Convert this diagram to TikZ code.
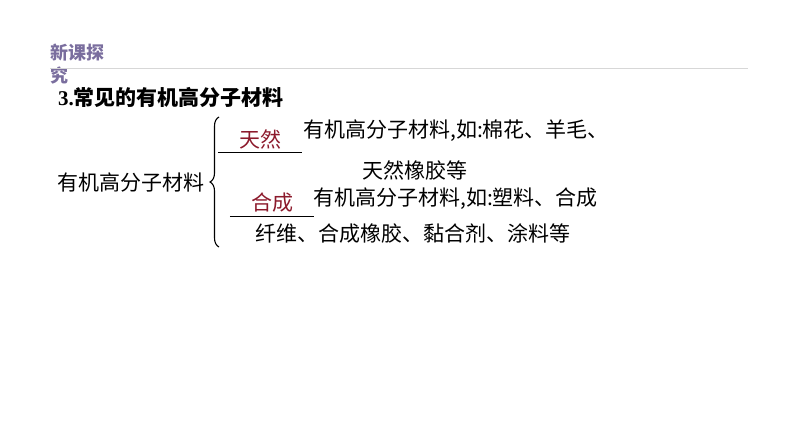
\documentclass[tikz,border=0pt]{standalone}
\usepackage{fontspec}
\usepackage{tikz}
\usetikzlibrary{decorations.pathreplacing}
\newfontfamily\cjk{Noto Sans CJK SC}
\newfontfamily\numfont{Liberation Serif}
\definecolor{headpurple}{RGB}{122,110,158}
\definecolor{answerred}{RGB}{140,26,44}
\definecolor{rulegray}{RGB}{215,215,215}
\tikzset{
  txt/.style={anchor=west, inner sep=0pt, font=\cjk\fontsize{21}{25}\selectfont},
  blank/.style={anchor=south, inner xsep=0pt, inner ysep=3pt, minimum width=84pt,
    text=answerred, font=\cjk\fontsize{21}{25}\selectfont},
}

\begin{document}
\begin{tikzpicture}[x=1pt, y=-1pt]
  
  \useasboundingbox (0,0) rectangle (794,447);

  % header
  \node[txt, text=headpurple, font=\cjk\bfseries\fontsize{18}{21}\selectfont] (head1) at (50,53) {新课探};
  \node[txt, text=headpurple, font=\cjk\bfseries\fontsize{18}{21}\selectfont] (head2) at (50,76) {究};
  \draw[rulegray, line width=0.8pt] (50,68) -- (748,68);

  % title
  \node[txt, font=\cjk\bfseries\fontsize{21}{25}\selectfont] (title) at (58,97) {{\numfont 3.}常见的有机高分子材料};

  \node[txt] (root) at (57,183) {有机高分子材料};
  \draw[line width=1.1pt, decorate, decoration={brace, amplitude=9pt}] (219,247) -- (219,117); % brace

  % natural
  \node[blank] (tianran) at (260,152) {天然};
  \draw[line width=0.8pt] (tianran.south west) -- (tianran.south east);
  \node[txt] (nat1) at (303,131) {有机高分子材料,如:棉花、羊毛、};
  \node[txt] (nat2) at (362,170) {天然橡胶等};

  % synthetic
  \node[blank] (hecheng) at (272,216) {合成};
  \draw[line width=0.8pt] (hecheng.south west) -- (hecheng.south east);
  \node[txt] (syn1) at (313,199) {有机高分子材料,如:塑料、合成};
  \node[txt] (syn2) at (255,234) {纤维、合成橡胶、黏合剂、涂料等};

\end{tikzpicture}
\end{document}
